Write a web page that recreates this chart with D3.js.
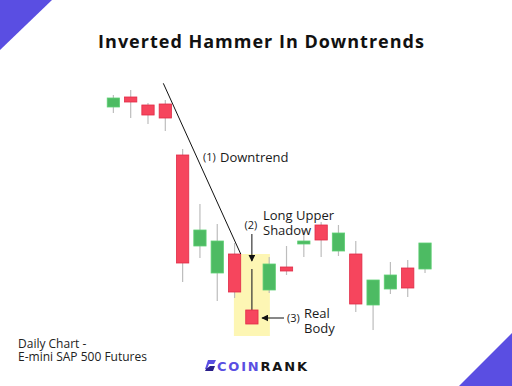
<!doctype html>
<html>
<head>
	<meta charset="utf-8">
	<title>Inverted Hammer In Downtrends</title>
	<script src="https://cdnjs.cloudflare.com/ajax/libs/d3/7.8.5/d3.min.js"></script>
	<style>
		body { margin: 0; background: #fff; }
		svg { display: block; font-family: "Open Sans", "Noto Sans", sans-serif; }
	</style>
</head>
<body>
	<script>
		// candles (price units, higher = up)
		var days   = ['D1','D2','D3','D4','D5','D6','D7','D8','D9','D10','D11','D12','D13','D14','D15','D16','D17','D18','D19'];
		var opens  = [243, 253, 245, 246, 195, 104,  77,  96,  40,  60,  83, 106, 125,  99,  96,  45,  61,  82,  81];
		var closes = [252, 248, 235, 232,  87, 120, 109,  58,  26,  86,  79, 109, 110, 117,  46,  70,  75,  62, 107];
		var highs  = [255, 260, 247, 250, 201, 146, 126, 107,  81,  93, 104, 120, 128, 125, 109,  70,  88,  90, 107];
		var lows   = [237, 232, 226, 219,  68,  92,  49,  52,  26,  57,  75,  93,  93,  94,  38,  20,  56,  53,  77];

		var W = 512, H = 386;
		var red = '#f6455d', green = '#4dbb63', purple = '#5a4ee2';

		var svg = d3.select('body').append('svg')
			.attr('width', W)
			.attr('height', H);

		// corner triangles
		svg.append('path').attr('d', 'M0,0L52,0L0,50Z').attr('fill', purple);
		svg.append('path').attr('d', 'M512,333L512,386L459,386Z').attr('fill', purple);

		svg.append('text')
			.attr('x', 261.5).attr('y', 48)
			.attr('text-anchor', 'middle')
			.attr('font-size', 18).attr('font-weight', 700)
			.attr('letter-spacing', 1)
			.attr('fill', '#111')
			.text('Inverted Hammer In Downtrends');

		var x = d3.scaleBand()
			.domain(days)
			.range([102.2, 436.2])
			.padding(0.29);

		var y = d3.scaleLinear()
			.domain([0, 270])
			.range([350, 80]);

		var bw = x.bandwidth();
		var cx = function (i) { return x(days[i]) + bw / 2; };

		// highlight box behind the inverted hammer
		svg.append('rect')
			.attr('x', cx(8) - 18).attr('width', 36)
			.attr('y', y(opens[7])).attr('height', y(14) - y(opens[7]))
			.attr('fill', '#fdf6b4');

		var candles = svg.append('g').selectAll('g')
			.data(days)
			.enter().append('g');

		candles.append('line')
			.attr('x1', function (d, i) { return cx(i); })
			.attr('x2', function (d, i) { return cx(i); })
			.attr('y1', function (d, i) { return y(highs[i]); })
			.attr('y2', function (d, i) { return y(lows[i]); })
			.attr('stroke', function (d, i) { return i === 8 ? '#333' : '#bdbdbd'; })
			.attr('stroke-width', 1.2);

		candles.append('rect')
			.attr('x', function (d) { return x(d); })
			.attr('width', bw)
			.attr('y', function (d, i) { return y(Math.max(opens[i], closes[i])); })
			.attr('height', function (d, i) { return Math.max(2, Math.abs(y(opens[i]) - y(closes[i]))); })
			.attr('fill', function (d, i) { return closes[i] >= opens[i] ? green : red; })
			.attr('stroke', function (d, i) { return closes[i] >= opens[i] ? '#5fcf75' : '#e02c48'; })
			.attr('stroke-width', 0.8);

		// annotations
		svg.append('defs').append('marker')
			.attr('id', 'arr')
			.attr('viewBox', '0 0 10 10')
			.attr('refX', 9).attr('refY', 5)
			.attr('markerWidth', 7).attr('markerHeight', 7)
			.attr('orient', 'auto')
			.append('path').attr('d', 'M0,0L10,5L0,10Z').attr('fill', '#111');

		svg.append('line')
			.attr('x1', cx(3) - 2).attr('y1', y(266.7))
			.attr('x2', x(days[7]) + bw).attr('y2', y(opens[7]))
			.attr('stroke', '#111').attr('stroke-width', 1);

		svg.append('line')
			.attr('x1', cx(8)).attr('y1', 234)
			.attr('x2', cx(8)).attr('y2', 261)
			.attr('stroke', '#111').attr('stroke-width', 1)
			.attr('marker-end', 'url(#arr)');

		svg.append('line')
			.attr('x1', 284).attr('y1', y(32))
			.attr('x2', x(days[8]) + bw + 4).attr('y2', y(32))
			.attr('stroke', '#111').attr('stroke-width', 1)
			.attr('marker-end', 'url(#arr)');

		var notes = svg.append('g').attr('fill', '#1a1a1a');
		notes.append('text').attr('x', 203).attr('y', 161).attr('font-size', 11).text('(1)');
		notes.append('text').attr('x', 220).attr('y', 162).attr('font-size', 13).text('Downtrend');
		notes.append('text').attr('x', cx(8) - 1).attr('y', 229).attr('font-size', 11).attr('text-anchor', 'middle').text('(2)');
		notes.append('text').attr('x', 263).attr('y', 220).attr('font-size', 13).text('Long Upper');
		notes.append('text').attr('x', 263).attr('y', 235).attr('font-size', 13).text('Shadow');
		notes.append('text').attr('x', 287).attr('y', 322).attr('font-size', 11).text('(3)');
		notes.append('text').attr('x', 304).attr('y', 318).attr('font-size', 13).text('Real');
		notes.append('text').attr('x', 304).attr('y', 333).attr('font-size', 13).text('Body');

		var foot = svg.append('g').attr('fill', '#222').attr('font-size', 12);
		foot.append('text').attr('x', 18).attr('y', 348).text('Daily Chart -');
		foot.append('text').attr('x', 18).attr('y', 361).text('E-mini SAP 500 Futures');

		// logo
		var logo = svg.append('g');
		logo.append('path').attr('d', 'M208,360L216,360L214,364L209,364L207,369L205,369Z').attr('fill', purple);
		logo.append('path').attr('d', 'M210,366L215,366L213,371L205,371L206,369Z').attr('fill', '#2a1f8a');
		var lt = logo.append('text')
			.attr('x', 217).attr('y', 370.5)
			.attr('font-family', '"DejaVu Sans", sans-serif')
			.attr('font-size', 13).attr('font-weight', 700)
			.attr('textLength', 90).attr('lengthAdjust', 'spacing');
		lt.append('tspan').attr('fill', purple).text('COIN');
		lt.append('tspan').attr('fill', '#151515').text('RANK');
	</script>
</body>
</html>
